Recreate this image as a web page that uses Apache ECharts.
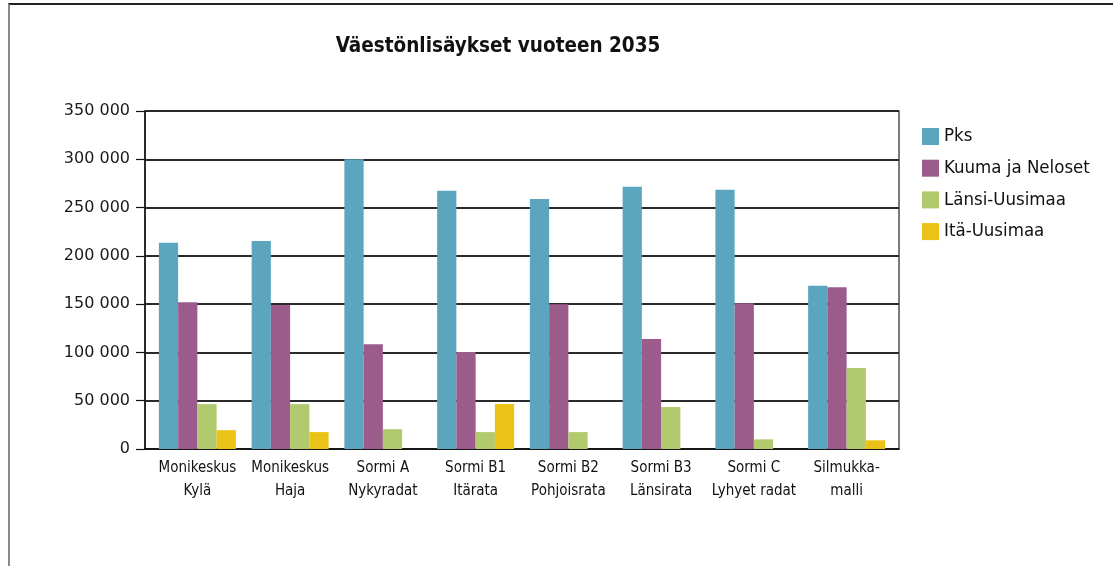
<!DOCTYPE html>
<html>
<head>
<meta charset="utf-8">
<script src="https://cdn.jsdelivr.net/npm/echarts@6/dist/echarts.min.js"></script>
<style>
  html, body { margin: 0; padding: 0; background: #fff; }
  #frame { position: absolute; left: 8px; top: 3px; right: 0; bottom: 0;
           border-top: 2px solid #222; border-left: 2px solid #8a8a8a; }
  #chart { position: absolute; left: 0; top: 0; width: 1113px; height: 566px; }
</style>
</head>
<body>
<div id="frame"></div>
<div id="chart"></div>
<script>
// Population growth until 2035 by development model and region
const categories = [
  'Monikeskus\nKylä', 'Monikeskus\nHaja', 'Sormi A\nNykyradat', 'Sormi B1\nItärata',
  'Sormi B2\nPohjoisrata', 'Sormi B3\nLänsirata', 'Sormi C\nLyhyet radat', 'Silmukka-\nmalli'
];
const pks       = [213500, 215500, 300000, 267500, 259000, 271500, 268500, 169000];
const kuuma     = [152000, 149000, 108500, 100500, 150000, 114000, 151000, 167500];
const lansi     = [ 46500,  46500,  20500,  17500,  17500,  43500,  10000,  84000];
const ita       = [ 19500,  17500,      0,  46500,      0,      0,      0,   9000];
const yTicks    = [0, 50000, 100000, 150000, 200000, 250000, 300000, 350000];

const seriesNames  = ['Pks', 'Kuuma ja Neloset', 'Länsi-Uusimaa', 'Itä-Uusimaa'];
const seriesValues = [pks, kuuma, lansi, ita];
const colors = ['#5ca5be', '#9b5c8c', '#b1ca6e', '#ebc217'];

const condensed = '"DejaVu Sans Condensed", "Liberation Sans Narrow", "DejaVu Sans", sans-serif';

const fmt = v => String(v).replace(/\B(?=(\d{3})+(?!\d))/g, ' ');

const chart = echarts.init(document.getElementById('chart'), null, { renderer: 'canvas' });
chart.setOption({
  animation: false,
  color: colors,
  title: {
    text: 'Väestönlisäykset vuoteen 2035',
    left: 498, top: 36, textAlign: 'center', padding: 0,
    textStyle: { fontFamily: condensed, fontWeight: 'bold', fontSize: 20.5, color: '#111' }
  },
  legend: {
    orient: 'vertical', left: 922, top: 127, padding: 0,
    itemWidth: 17, itemHeight: 17, itemGap: 12.7,
    icon: 'rect',
    textStyle: { fontFamily: condensed, fontSize: 18.5, color: '#111' },
    data: seriesNames
  },
  // grid 0: frame, gridlines and value axis; grid 1: the bar groups and category labels
  grid: [
    { left: 145, right: 214, top: 111, bottom: 117,
      show: true, borderColor: '#222', borderWidth: 1.2, backgroundColor: 'transparent' },
    { left: 151, right: 220, top: 111, bottom: 117 }
  ],
  xAxis: [
    {
      type: 'category', gridIndex: 0, data: categories,
      axisLine: { lineStyle: { color: '#111', width: 1.5 } },
      axisTick: { show: false },
      axisLabel: { show: false }
    },
    {
      type: 'category', gridIndex: 1, data: categories,
      axisLine: { show: false },
      axisTick: { show: false },
      axisLabel: {
        fontFamily: condensed, fontSize: 15, color: '#111',
        lineHeight: 23, margin: 7.5, interval: 0
      }
    }
  ],
  yAxis: [
    {
      type: 'value', gridIndex: 0, min: 0, max: 350000, interval: 50000,
      axisLine: { show: true, lineStyle: { color: '#111', width: 1.5 } },
      axisTick: { show: true, length: 9, lineStyle: { color: '#111', width: 1.2 } },
      splitLine: { lineStyle: { color: '#2a2a2a', width: 1.8 } },
      axisLabel: {
        fontFamily: '"DejaVu Sans", sans-serif', fontSize: 16, color: '#1a1a1a', margin: 15,
        formatter: v => yTicks.includes(v) ? fmt(v) : ''
      }
    },
    {
      type: 'value', gridIndex: 1, min: 0, max: 350000, interval: 50000,
      axisLine: { show: false }, axisTick: { show: false },
      axisLabel: { show: false }, splitLine: { show: false }
    }
  ],
  series: seriesNames.map((name, i) => ({
    name, type: 'bar', data: seriesValues[i],
    xAxisIndex: 1, yAxisIndex: 1,
    barGap: '0%', barCategoryGap: '17%',
    itemStyle: { color: colors[i] }
  }))
});
</script>
</body>
</html>
